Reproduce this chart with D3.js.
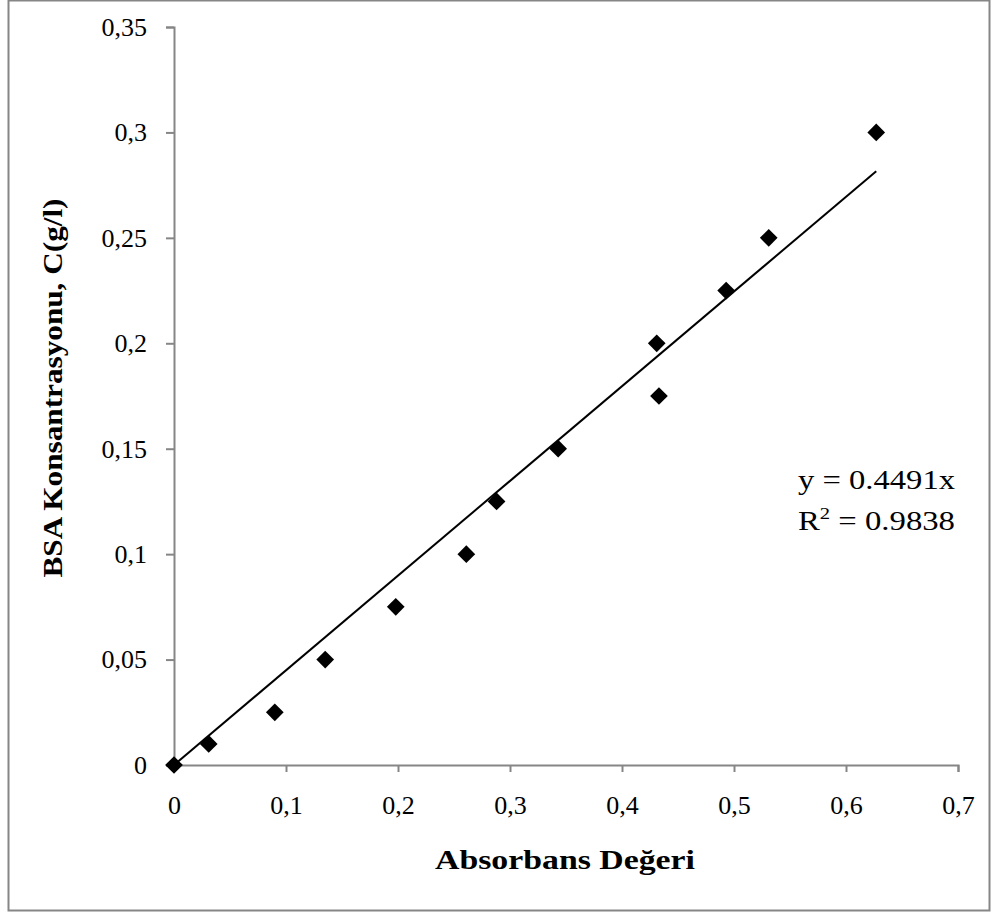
<!DOCTYPE html>
<html><head><meta charset="utf-8">
<script src="https://cdn.jsdelivr.net/npm/d3@7"></script>
<style>body{margin:0;background:#fff}svg{display:block}text{font-family:"Liberation Serif","DejaVu Serif",serif}</style>
</head><body>
<script>
const absorbance = [0, 0.031, 0.090, 0.135, 0.198, 0.261, 0.288, 0.343, 0.431, 0.433, 0.493, 0.531, 0.627];
const concentration = [0, 0.01, 0.025, 0.05, 0.075, 0.1, 0.125, 0.15, 0.2, 0.175, 0.225, 0.25, 0.3];
const xTicks = [0, 0.1, 0.2, 0.3, 0.4, 0.5, 0.6, 0.7];
const yTicks = [0, 0.05, 0.1, 0.15, 0.2, 0.25, 0.3, 0.35];
const slope = 0.4491;
const r2 = "0.9838";

const W = 998, H = 915;
const svg = d3.select("body").append("svg").attr("width", W).attr("height", H);
svg.append("rect").attr("x", 8.5).attr("y", 0.5).attr("width", 981).attr("height", 910)
  .attr("fill", "#fff").attr("stroke", "#868686").attr("stroke-width", 2);

const x = d3.scaleLinear().domain([0, 0.7]).range([174, 958]);
const y = d3.scaleLinear().domain([0, 0.35]).range([765, 27]);
const fmt = d => String(d).replace(".", ",");
const axisColor = "#868686";
const FONT = '"Liberation Serif","DejaVu Serif",serif';

const gx = svg.append("g").attr("transform", "translate(0,765)")
  .call(d3.axisBottom(x).tickValues(xTicks).tickFormat(fmt).tickSize(7).tickSizeOuter(7).tickPadding(24));
const gy = svg.append("g").attr("transform", "translate(174,0)")
  .call(d3.axisLeft(y).tickValues(yTicks).tickFormat(fmt).tickSize(8).tickSizeOuter(8).tickPadding(19));
[gx, gy].forEach(g => {
  g.selectAll("path,line").attr("stroke", axisColor).attr("stroke-width", 2);
  g.selectAll("text").attr("fill", "#000").style("font-size", "26px").style("font-family", FONT);
});

const xMax = d3.max(absorbance);
svg.append("line").attr("x1", x(0)).attr("y1", y(0)).attr("x2", x(xMax)).attr("y2", y(slope * xMax))
  .attr("stroke", "#000").attr("stroke-width", 2);

const diamond = d3.symbol().type(d3.symbolDiamond2).size(200);
svg.append("g").selectAll("path").data(absorbance).join("path")
  .attr("d", diamond)
  .attr("transform", (d, i) => `translate(${x(d)},${y(concentration[i])})`)
  .attr("fill", "#000");

svg.append("text").attr("x", 798).attr("y", 489).style("font-size", "27px")
  .attr("textLength", 157).attr("lengthAdjust", "spacingAndGlyphs").text(`y = ${slope}x`);
const t2 = svg.append("text").attr("x", 798).attr("y", 530).style("font-size", "27px")
  .attr("textLength", 157).attr("lengthAdjust", "spacingAndGlyphs");
t2.append("tspan").text("R");
t2.append("tspan").attr("dy", -11).style("font-size", "17px").text("2");
t2.append("tspan").attr("dy", 11).text(` = ${r2}`);

svg.append("text").attr("x", 565).attr("y", 869).attr("text-anchor", "middle")
  .style("font-size", "28px").style("font-weight", "bold").attr("textLength", 260).attr("lengthAdjust", "spacingAndGlyphs").text("Absorbans Değeri");
svg.append("text").attr("transform", "translate(62,388) rotate(-90)").attr("text-anchor", "middle")
  .style("font-size", "28px").style("font-weight", "bold").attr("textLength", 379).attr("lengthAdjust", "spacingAndGlyphs").text("BSA Konsantrasyonu, C(g/l)");
</script>
</body></html>
